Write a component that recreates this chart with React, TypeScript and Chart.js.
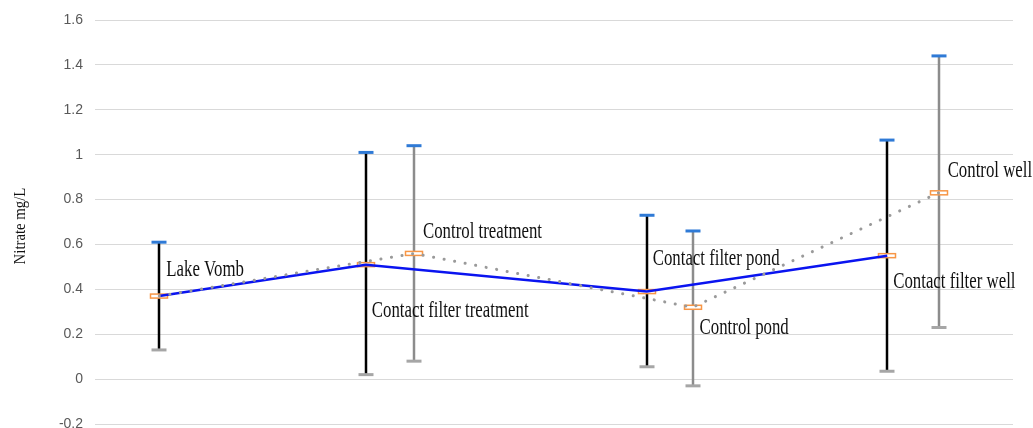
import React, { useEffect, useRef } from 'react';
import { Chart, registerables } from 'chart.js';

Chart.register(...registerables);

// ---- data ----
const contactLabels = ['Lake Vomb', 'Contact filter treatment', 'Contact filter pond', 'Contact filter well'];
const contactX = [0.7, 2.95, 6.01, 8.63];
const contactMean = [0.37, 0.51, 0.39, 0.55];
const contactLow = [0.13, 0.02, 0.055, 0.035];
const contactHigh = [0.61, 1.01, 0.73, 1.065];

const controlLabels = [null, 'Control treatment', 'Control pond', 'Control well'];
const controlX = [0.7, 3.475, 6.51, 9.19];
const controlMean = [0.37, 0.56, 0.32, 0.83];
const controlLow = [null, 0.08, -0.03, 0.23];
const controlHigh = [null, 1.04, 0.66, 1.44];

const yMin = -0.2;
const yMax = 1.6;
const yStep = 0.2;
const yTitle = 'Nitrate mg/L';

// ---- styles ----
const SERIF = '"Liberation Serif", "Times New Roman", serif';
const contactLabelOffsets = [[7, -20], [6, 52], [6, -27], [6, 32]];
const controlLabelOffsets = [[0, 0], [9, -15], [7, 27], [9, -16]];

function drawScaledText(ctx: CanvasRenderingContext2D, text: string, x: number, y: number, size: number, sx: number, rot = 0) {
  ctx.save();
  ctx.translate(x, y);
  if (rot) ctx.rotate(rot);
  ctx.scale(sx, 1);
  ctx.font = `${size}px ${SERIF}`;
  ctx.fillStyle = '#111';
  ctx.fillText(text, 0, 0);
  ctx.restore();
}

const errorBarPlugin = {
  id: 'errorBars',
  beforeDatasetsDraw(chart: any) {
    const ctx: CanvasRenderingContext2D = chart.ctx;
    const xs = chart.scales.x;
    const ys = chart.scales.y;
    const groups = [
      { x: contactX, m: contactMean, lo: contactLow, hi: contactHigh, color: '#000000' },
      { x: controlX, m: controlMean, lo: controlLow, hi: controlHigh, color: '#8c8c8c' },
    ];
    ctx.save();
    for (const g of groups) {
      for (let i = 0; i < g.x.length; i++) {
        const lo = g.lo[i];
        const hi = g.hi[i];
        if (lo == null || hi == null) continue;
        const px = Math.round(xs.getPixelForValue(g.x[i]));
        const pLo = ys.getPixelForValue(lo);
        const pHi = ys.getPixelForValue(hi);
        ctx.strokeStyle = g.color;
        ctx.lineWidth = 2.5;
        ctx.beginPath();
        ctx.moveTo(px, pLo);
        ctx.lineTo(px, pHi);
        ctx.stroke();
        ctx.lineWidth = 3;
        ctx.strokeStyle = '#2f7ad6';
        ctx.beginPath();
        ctx.moveTo(px - 7.5, pHi);
        ctx.lineTo(px + 7.5, pHi);
        ctx.stroke();
        ctx.strokeStyle = '#a6a6a6';
        ctx.beginPath();
        ctx.moveTo(px - 7.5, pLo);
        ctx.lineTo(px + 7.5, pLo);
        ctx.stroke();
      }
    }
    for (const g of groups) {
      for (let i = 0; i < g.x.length; i++) {
        if (g.lo[i] == null) continue;
        const px = Math.round(xs.getPixelForValue(g.x[i]));
        const pm = ys.getPixelForValue(g.m[i]);
        ctx.fillStyle = '#ffffff';
        ctx.fillRect(px - 8.5, pm - 2, 17, 4);
        ctx.strokeStyle = '#f79646';
        ctx.lineWidth = 1.5;
        ctx.strokeRect(px - 8.5, pm - 2, 17, 4);
      }
    }
    ctx.restore();
  },
  afterDatasetsDraw(chart: any) {
    const ctx: CanvasRenderingContext2D = chart.ctx;
    const xs = chart.scales.x;
    const ys = chart.scales.y;
    ctx.save();
    ctx.textBaseline = 'alphabetic';
    ctx.textAlign = 'left';
    const sets = [
      { x: contactX, m: contactMean, l: contactLabels, o: contactLabelOffsets },
      { x: controlX, m: controlMean, l: controlLabels, o: controlLabelOffsets },
    ];
    for (const s of sets) {
      for (let i = 0; i < s.x.length; i++) {
        const t = s.l[i];
        if (!t) continue;
        const px = xs.getPixelForValue(s.x[i]);
        const py = ys.getPixelForValue(s.m[i]);
        drawScaledText(ctx, t, px + s.o[i][0], py + s.o[i][1], 24, 0.7);
      }
    }
    ctx.textAlign = 'center';
    ctx.textBaseline = 'middle';
    drawScaledText(ctx, yTitle, 21, 226, 17, 0.87, -Math.PI / 2);
    ctx.restore();
  },
};

export default function App() {
  const ref = useRef<HTMLCanvasElement | null>(null);
  useEffect(() => {
    document.body.style.margin = '0';
    const canvas = ref.current!;
    const chart = new Chart(canvas, {
      type: 'scatter',
      data: {
        datasets: [
          {
            label: 'Contact filter',
            data: contactX.map((x, i) => ({ x, y: contactMean[i] })),
            showLine: true,
            borderColor: '#0a14f0',
            borderWidth: 2.5,
            pointRadius: 0,
            order: 1,
          },
          {
            label: 'Control',
            data: controlX.map((x, i) => ({ x, y: controlMean[i] })),
            showLine: true,
            borderColor: '#9a9a9a',
            borderWidth: 3,
            borderDash: [0.1, 10.6],
            borderCapStyle: 'round',
            pointRadius: 0,
            order: 0,
          },
        ],
      },
      options: {
        animation: false,
        responsive: false,
        maintainAspectRatio: false,
        layout: { padding: { top: 20, bottom: 0, left: 0, right: 20 } },
        plugins: { legend: { display: false }, tooltip: { enabled: false }, title: { display: false } },
        scales: {
          x: { type: 'linear', min: 0, max: 10, display: false },
          y: {
            type: 'linear',
            min: yMin,
            max: yMax,
            border: { display: false },
            grid: { color: '#d9d9d9', lineWidth: 1, drawTicks: false },
            ticks: {
              stepSize: yStep,
              padding: 12,
              color: '#595959',
              font: { family: '"Liberation Sans", Arial, sans-serif', size: 14, lineHeight: 1 },
              callback: (v: any) => String(Number(Number(v).toFixed(2))),
            },
            afterFit: (scale: any) => {
              scale.width = 95;
            },
          },
        },
      },
      plugins: [errorBarPlugin],
    } as any);
    return () => chart.destroy();
  }, []);
  return (
    <div style={{ width: 1033, height: 428, overflow: 'hidden' }}>
      <canvas ref={ref} width={1033} height={443} style={{ display: 'block' }} />
    </div>
  );
}
